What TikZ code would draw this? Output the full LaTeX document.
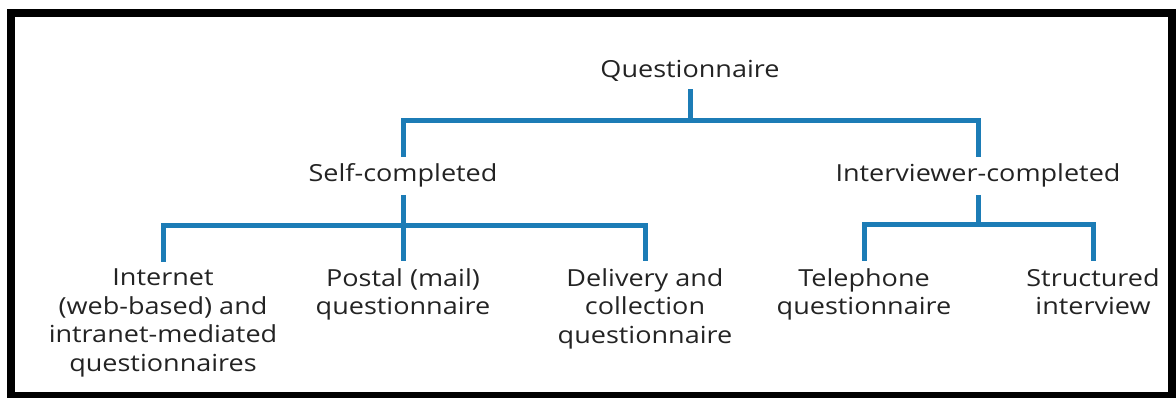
\documentclass[tikz,border=0pt]{standalone}
\usepackage{fontspec}
\setmainfont{Open Sans}
\definecolor{linkblue}{RGB}{28,124,182}
\definecolor{txt}{RGB}{35,35,35}
\begin{document}
\begin{tikzpicture}[x=1pt,y=-1pt,
  lbl/.style={font=\fontsize{23.5}{28.5}\selectfont, text=txt, align=center,
    inner xsep=0pt, inner ysep=7pt, xscale=1.15},
  conn/.style={draw=linkblue, line width=5pt, line cap=butt, line join=miter}]
\useasboundingbox (0,0) rectangle (1176,398);
\draw[line width=8pt] (11,13.5) rectangle (1172,395.5);
\coordinate (b1) at (0,121);
\coordinate (b2) at (0,226);
\coordinate (b3) at (0,225);
\node[lbl, anchor=base] (q) at (690,78) {Questionnaire};
\node[lbl, anchor=base] (sc) at (403,182) {Self-completed};
\node[lbl, anchor=base] (ic) at (978,182) {Interviewer-completed};
\node[lbl, anchor=north] (n1) at (163,262) {Internet\\(web-based) and\\intranet-mediated\\questionnaires};
\node[lbl, anchor=north] (n2) at (403,261) {Postal (mail)\\questionnaire};
\node[lbl, anchor=north] (n3) at (645,261) {Delivery and\\collection\\questionnaire};
\node[lbl, anchor=north] (n4) at (864,261) {Telephone\\questionnaire};
\node[lbl, anchor=north] (n5) at (1093,261) {Structured\\interview};
\draw[conn] (q.south) -- (q.south |- b1);
\draw[conn] (sc.north) -- (sc.north |- b1) -- (ic.north |- b1) -- (ic.north);
\draw[conn] (sc.south) -- (n2.north);
\draw[conn] (n1.north) -- (n1.north |- b2) -- (n3.north |- b2) -- (n3.north);
\draw[conn] (ic.south) -- (ic.south |- b3);
\draw[conn] (n4.north) -- (n4.north |- b3) -- (n5.north |- b3) -- (n5.north);
\end{tikzpicture}
\end{document}
